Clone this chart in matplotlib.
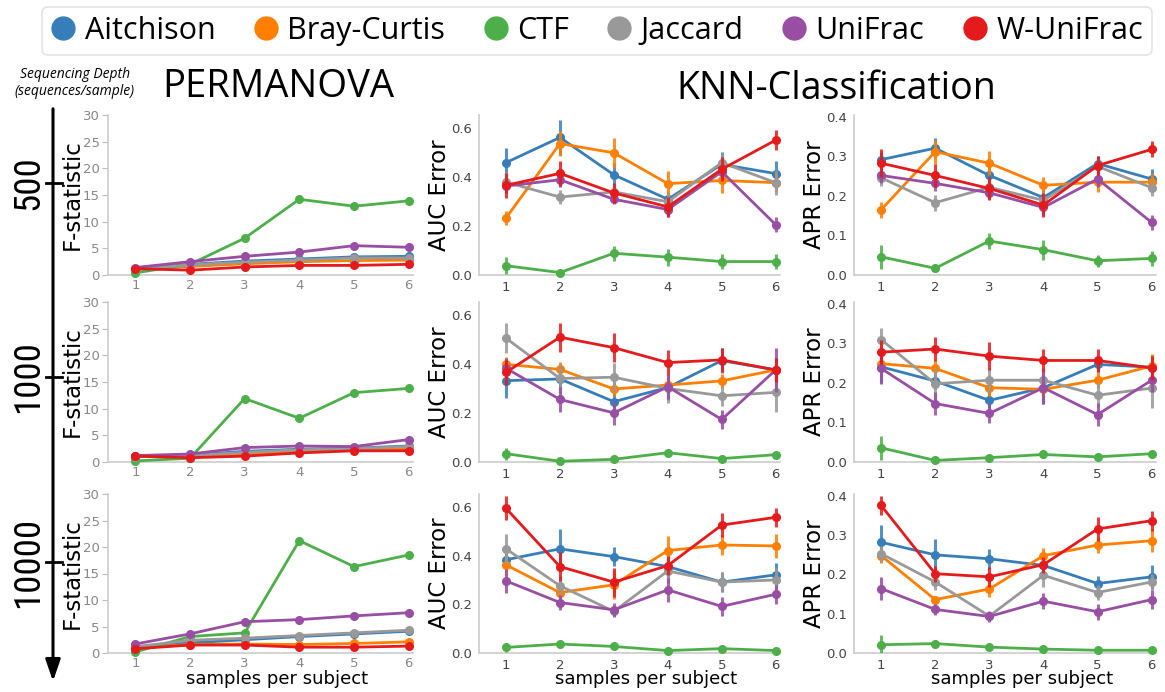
import matplotlib
matplotlib.use("Agg")
import matplotlib.pyplot as plt
from matplotlib import font_manager
from matplotlib.lines import Line2D

methods = ["Aitchison", "Bray-Curtis", "CTF", "Jaccard", "UniFrac", "W-UniFrac"]
colors = ["#377eb8", "#ff7f00", "#4daf4a", "#999999", "#984ea3", "#e41a1c"]
samples = [1, 2, 3, 4, 5, 6]
depths = ["500", "1000", "10000"]

# PERMANOVA F-statistic, one row per method
perm_500 = [
    [1.2, 2.0, 2.6, 3.0, 3.4, 3.5],
    [1.0, 1.6, 2.1, 2.5, 2.7, 2.8],
    [0.4, 2.0, 6.9, 14.2, 12.9, 13.9],
    [1.1, 1.9, 2.4, 2.8, 3.2, 3.2],
    [1.4, 2.5, 3.5, 4.3, 5.5, 5.2],
    [1.2, 0.9, 1.5, 1.8, 1.8, 2.0],
]
perm_1000 = [
    [1.1, 1.3, 2.0, 2.4, 2.6, 3.0],
    [1.0, 1.0, 1.5, 2.0, 2.3, 2.4],
    [0.2, 0.7, 11.9, 8.2, 13.0, 13.8],
    [1.0, 1.2, 1.8, 2.3, 2.5, 2.9],
    [1.2, 1.5, 2.7, 3.0, 2.9, 4.2],
    [1.1, 0.8, 1.1, 1.7, 2.1, 2.1],
]
perm_10000 = [
    [1.1, 1.9, 2.5, 3.1, 3.6, 4.1],
    [0.9, 1.6, 1.7, 1.6, 1.8, 2.1],
    [0.2, 3.1, 3.8, 21.2, 16.3, 18.5],
    [1.2, 2.4, 2.8, 3.3, 3.8, 4.3],
    [1.7, 3.6, 5.9, 6.3, 7.0, 7.6],
    [0.8, 1.5, 1.5, 1.1, 1.1, 1.3],
]

# KNN AUC error
auc_500 = [
    [0.46, 0.563, 0.41, 0.31, 0.453, 0.415],
    [0.233, 0.538, 0.50, 0.374, 0.387, 0.378],
    [0.038, 0.01, 0.089, 0.073, 0.055, 0.055],
    [0.38, 0.319, 0.34, 0.30, 0.46, 0.378],
    [0.364, 0.39, 0.31, 0.268, 0.423, 0.206],
    [0.367, 0.416, 0.336, 0.279, 0.433, 0.552],
]
auc_500_err = [
    [0.06, 0.07, 0.05, 0.03, 0.05, 0.05],
    [0.03, 0.05, 0.06, 0.05, 0.05, 0.04],
    [0.035, 0.01, 0.03, 0.035, 0.03, 0.03],
    [0.04, 0.03, 0.03, 0.03, 0.04, 0.05],
    [0.03, 0.03, 0.02, 0.03, 0.03, 0.03],
    [0.05, 0.05, 0.04, 0.04, 0.05, 0.04],
]
auc_1000 = [
    [0.333, 0.34, 0.247, 0.305, 0.415, 0.377],
    [0.40, 0.379, 0.299, 0.315, 0.332, 0.377],
    [0.034, 0.003, 0.011, 0.038, 0.014, 0.030],
    [0.507, 0.342, 0.347, 0.301, 0.271, 0.285],
    [0.384, 0.256, 0.201, 0.308, 0.174, 0.377],
    [0.367, 0.511, 0.468, 0.407, 0.418, 0.377],
]
auc_1000_err = [
    [0.07, 0.04, 0.04, 0.05, 0.05, 0.05],
    [0.03, 0.03, 0.03, 0.03, 0.03, 0.04],
    [0.025, 0.003, 0.008, 0.01, 0.01, 0.01],
    [0.06, 0.06, 0.06, 0.06, 0.04, 0.08],
    [0.04, 0.05, 0.05, 0.05, 0.04, 0.09],
    [0.05, 0.06, 0.06, 0.05, 0.05, 0.05],
]
auc_10000 = [
    [0.384, 0.429, 0.397, 0.356, 0.292, 0.322],
    [0.363, 0.249, 0.281, 0.422, 0.445, 0.441],
    [0.023, 0.037, 0.027, 0.01, 0.018, 0.01],
    [0.429, 0.277, 0.171, 0.338, 0.292, 0.301],
    [0.297, 0.208, 0.178, 0.26, 0.192, 0.242],
    [0.596, 0.356, 0.292, 0.36, 0.527, 0.559],
]
auc_10000_err = [
    [0.04, 0.08, 0.04, 0.05, 0.04, 0.05],
    [0.04, 0.03, 0.06, 0.06, 0.04, 0.05],
    [0.02, 0.01, 0.01, 0.005, 0.01, 0.005],
    [0.06, 0.04, 0.02, 0.05, 0.04, 0.05],
    [0.05, 0.03, 0.03, 0.05, 0.04, 0.04],
    [0.05, 0.06, 0.06, 0.04, 0.05, 0.04],
]

# KNN APR error
apr_500 = [
    [0.292, 0.321, 0.252, 0.196, 0.282, 0.243],
    [0.165, 0.312, 0.283, 0.227, 0.235, 0.235],
    [0.046, 0.017, 0.086, 0.064, 0.036, 0.042],
    [0.246, 0.183, 0.222, 0.189, 0.275, 0.221],
    [0.252, 0.232, 0.208, 0.171, 0.243, 0.133],
    [0.283, 0.252, 0.219, 0.177, 0.277, 0.318],
]
apr_500_err = [
    [0.02, 0.025, 0.03, 0.02, 0.02, 0.025],
    [0.02, 0.03, 0.03, 0.02, 0.025, 0.02],
    [0.03, 0.01, 0.02, 0.025, 0.015, 0.02],
    [0.02, 0.02, 0.02, 0.02, 0.02, 0.02],
    [0.02, 0.02, 0.015, 0.02, 0.02, 0.02],
    [0.035, 0.03, 0.03, 0.03, 0.025, 0.02],
]
apr_1000 = [
    [0.241, 0.205, 0.156, 0.188, 0.247, 0.240],
    [0.249, 0.237, 0.188, 0.184, 0.207, 0.243],
    [0.036, 0.004, 0.011, 0.019, 0.013, 0.021],
    [0.31, 0.198, 0.207, 0.207, 0.169, 0.187],
    [0.237, 0.148, 0.123, 0.188, 0.12, 0.207],
    [0.278, 0.286, 0.268, 0.257, 0.257, 0.238],
]
apr_1000_err = [
    [0.04, 0.02, 0.02, 0.04, 0.02, 0.03],
    [0.02, 0.02, 0.02, 0.02, 0.02, 0.03],
    [0.03, 0.004, 0.01, 0.01, 0.01, 0.01],
    [0.03, 0.04, 0.03, 0.03, 0.03, 0.05],
    [0.04, 0.03, 0.025, 0.04, 0.03, 0.03],
    [0.03, 0.03, 0.035, 0.03, 0.03, 0.03],
]
apr_10000 = [
    [0.282, 0.25, 0.24, 0.223, 0.177, 0.194],
    [0.248, 0.136, 0.163, 0.248, 0.275, 0.286],
    [0.021, 0.024, 0.015, 0.01, 0.007, 0.007],
    [0.253, 0.181, 0.094, 0.198, 0.154, 0.181],
    [0.164, 0.111, 0.093, 0.132, 0.105, 0.136],
    [0.376, 0.202, 0.194, 0.225, 0.316, 0.337],
]
apr_10000_err = [
    [0.045, 0.04, 0.025, 0.02, 0.02, 0.03],
    [0.02, 0.01, 0.02, 0.02, 0.02, 0.03],
    [0.025, 0.01, 0.005, 0.005, 0.005, 0.005],
    [0.02, 0.02, 0.01, 0.03, 0.02, 0.02],
    [0.03, 0.015, 0.015, 0.02, 0.02, 0.025],
    [0.025, 0.02, 0.025, 0.02, 0.03, 0.025],
]


def pick_font(candidates, default):
    names = {f.name for f in font_manager.fontManager.ttflist}
    for name in candidates:
        if name in names:
            return name
    return default


NARROW = pick_font(["Liberation Sans Narrow", "Roboto Condensed",
                    "Open Sans Condensed"], "Roboto")
HUMAN = pick_font(["Open Sans", "Noto Sans"], "DejaVu Sans")
W, H = 1165, 692


def box(left, top, right, bottom):
    return [left / W, 1 - bottom / H, (right - left) / W, (bottom - top) / H]


def style(ax, ylim, yticks, ylabel, knn, last_row):
    ax.set_xlim(0.5, 6.08)
    ax.set_ylim(*ylim)
    ax.set_yticks(yticks)
    ax.set_xticks(samples)
    for side in ["top", "right"]:
        ax.spines[side].set_visible(False)
    for side in ["left", "bottom"]:
        ax.spines[side].set_color("#cccccc")
        ax.spines[side].set_linewidth(1.2)
    if knn:
        ax.set_yticklabels([f"{t:.1f}" for t in yticks])
        ax.tick_params(length=0, labelsize=9.5, labelcolor="#444444", pad=5)
        ax.tick_params(axis="x", pad=4)
    else:
        ax.tick_params(axis="y", length=4, color="#bbbbbb", labelsize=9.5,
                       labelcolor="#888888", pad=2)
        ax.tick_params(axis="x", length=0, labelsize=9.5,
                       labelcolor="#888888", pad=3)
    ax.set_ylabel(ylabel, fontsize=16.5, labelpad=0 if knn else -1)
    if last_row:
        ax.set_xlabel("samples per subject", fontsize=13)
        ax.xaxis.set_label_coords(0.555, -0.11)


def draw(ax, data, err=None):
    for i, vals in enumerate(data):
        if err is not None:
            lo = [max(v - e, 0) for v, e in zip(vals, err[i])]
            hi = [v + e for v, e in zip(vals, err[i])]
            ax.vlines(samples, lo, hi, color=colors[i], lw=2.2, alpha=0.85,
                      zorder=2 + i)
        ax.plot(samples, vals, color=colors[i], lw=2, marker="o", ms=5.5,
                clip_on=False, zorder=2 + i)


def main():
    fig = plt.figure(figsize=(W / 100, H / 100), dpi=100)

    col_x = [(108, 413), (479, 780), (854, 1156)]
    row_y = [(115, 275), (302, 462), (494, 653)]
    perm = [perm_500, perm_1000, perm_10000]
    auc = [(auc_500, auc_500_err), (auc_1000, auc_1000_err),
           (auc_10000, auc_10000_err)]
    apr = [(apr_500, apr_500_err), (apr_1000, apr_1000_err),
           (apr_10000, apr_10000_err)]

    for r, (top, bottom) in enumerate(row_y):
        last = r == 2
        ax = fig.add_axes(box(col_x[0][0], top, col_x[0][1], bottom))
        draw(ax, perm[r])
        style(ax, (0, 30), [0, 5, 10, 15, 20, 25, 30], "F-statistic",
              False, last)

        ax = fig.add_axes(box(col_x[1][0], top, col_x[1][1], bottom))
        draw(ax, auc[r][0], auc[r][1])
        style(ax, (0, 0.655), [0.0, 0.2, 0.4, 0.6], "AUC Error", True, last)

        ax = fig.add_axes(box(col_x[2][0], top, col_x[2][1], bottom))
        draw(ax, apr[r][0], apr[r][1])
        style(ax, (0, 0.405), [0.0, 0.1, 0.2, 0.3, 0.4], "APR Error",
              True, last)

    # overlay in pixel coordinates for the decorations
    ov = fig.add_axes([0, 0, 1, 1], zorder=-1)
    ov.set_xlim(0, W)
    ov.set_ylim(H, 0)
    ov.axis("off")

    ov.annotate("", xy=(53, 684), xytext=(53, 106),
                arrowprops=dict(arrowstyle="-|>,head_width=0.45,head_length=1.3",
                                lw=2.2, color="black"))
    for label, y in zip(depths, [183, 377, 562]):
        ov.plot([46, 62], [y, y], color="black", lw=2)
        ov.text(28, y, label, rotation=90, fontsize=26.5, family=NARROW,
                ha="center", va="center")

    ov.text(75, 83, "Sequencing Depth\n(sequences/sample)", fontsize=10,
            style="italic", family=HUMAN, ha="center", va="center",
            linespacing=1.25)
    ov.text(278, 97, "PERMANOVA", fontsize=27.5, family=HUMAN,
            ha="center", va="baseline")
    ov.text(836, 99, "KNN-Classification", fontsize=27, family=HUMAN,
            ha="center", va="baseline")

    handles = [Line2D([], [], ls="", marker="o", ms=16.5, color=c)
               for c in colors]
    leg = ov.legend(handles, methods, loc="center",
                    bbox_to_anchor=(597 / W, 1 - 31 / H), ncol=6, frameon=True,
                    prop={"family": HUMAN, "size": 22}, handletextpad=0.3,
                    columnspacing=1.25, borderpad=0.3, handlelength=0.8,
                    borderaxespad=0, fancybox=True)
    leg.get_frame().set_edgecolor("#dddddd")
    leg.get_frame().set_linewidth(1.2)

    fig.savefig("out.png", dpi=100)


if __name__ == "__main__":
    main()
